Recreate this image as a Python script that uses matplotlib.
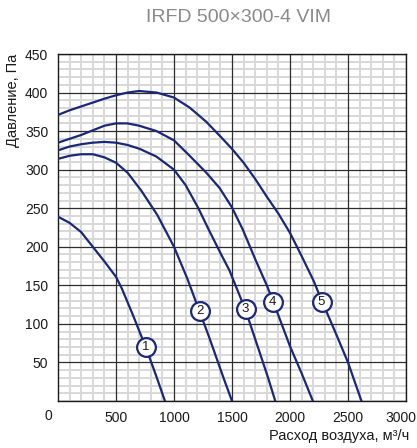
import matplotlib
matplotlib.use("Agg")
import matplotlib.pyplot as plt
from matplotlib.ticker import MultipleLocator
from matplotlib.transforms import ScaledTranslation

plt.rcParams['font.family'] = ['Liberation Sans', 'DejaVu Sans']

# fan curves: flow m3/h, pressure Pa
q1 = [0, 100, 200, 300, 400, 500, 550, 600, 650, 700, 759, 850, 922]
p1 = [239, 231, 219, 200, 181, 161, 146, 128, 110, 91, 69, 31, 0]

q2 = [0, 100, 200, 300, 400, 500, 600, 717, 857, 1000, 1114, 1218, 1300, 1434, 1500]
p2 = [314, 318, 320, 320, 316, 309, 296, 273, 241, 200, 159, 117, 84, 27, 0]

q3 = [0, 100, 200, 300, 400, 500, 600, 704, 848, 1000, 1100, 1210, 1300, 1400, 1476, 1614, 1734, 1807, 1873]
p3 = [325, 330, 333, 335, 336, 335, 332, 327, 317, 300, 280, 250, 222, 192, 170, 119, 65, 32, 0]

q4 = [0, 100, 200, 300, 400, 500, 600, 700, 850, 1000, 1135, 1279, 1394, 1500, 1594, 1700, 1800, 1855, 2000, 2100, 2197]
p4 = [335, 340, 345, 351, 357, 360, 360, 357, 350, 338, 318, 296, 276, 251, 222, 184, 150, 129, 71, 36, 0]

q5 = [0, 100, 200, 300, 400, 500, 600, 700, 850, 1000, 1135, 1279, 1394, 1500, 1600, 1700, 1800, 1900, 2000, 2100, 2200, 2277, 2400, 2500, 2616]
p5 = [371, 377, 382, 387, 392, 396.5, 400, 402, 400, 393.5, 380.5, 362, 344, 327, 309, 288, 265, 243, 218, 188, 157, 129, 86, 50, 0]

curve_labels = ['1', '2', '3', '4', '5']
label_q = [759, 1222, 1617, 1852, 2272]
label_p = [70, 117, 119, 128, 129]

xticks = [500, 1000, 1500, 2000, 2500, 3000]
yticks = [50, 100, 150, 200, 250, 300, 350, 400, 450]

navy = '#1b2778'
dark = '#1a1a1a'

fig = plt.figure(figsize=(4.17, 4.48), dpi=100)
ax = fig.add_axes([58 / 417, 1 - 401 / 448, 348 / 417, 347 / 448])

ax.set_xlim(0, 3000)
ax.set_ylim(0, 450)
ax.xaxis.set_minor_locator(MultipleLocator(100))
ax.yaxis.set_minor_locator(MultipleLocator(10))
ax.set_xticks(xticks)
ax.set_yticks(yticks)
ax.grid(which='minor', color='#d8d8d8', linewidth=1.4)
ax.set_axisbelow(True)
for x in xticks:
    ax.axvline(x, color='#2e2e2e', linewidth=0.9, zorder=1.5)
for y in yticks:
    ax.axhline(y, color='#2e2e2e', linewidth=0.9, zorder=1.5)
ax.tick_params(which='both', length=0, labelsize=10, pad=7, colors=dark)
for s in ax.spines.values():
    s.set_color(dark)
    s.set_linewidth(1.0)

# last x label sits flush with the right edge
last = ax.get_xticklabels()[-1]
last.set_transform(last.get_transform() + ScaledTranslation(-5 / 100, 0, fig.dpi_scale_trans))

for q, p in [(q1, p1), (q2, p2), (q3, p3), (q4, p4), (q5, p5)]:
    ax.plot(q, p, color=navy, linewidth=1.6, zorder=3, solid_joinstyle='round')

for t, x, y in zip(curve_labels, label_q, label_p):
    ax.plot(x, y, 'o', markersize=13.5, markerfacecolor='white',
            markeredgecolor=navy, markeredgewidth=1.6, zorder=4)
    ax.text(x, y, t, ha='center', va='center', fontsize=9.5, color=dark, zorder=5)

ax.annotate('0', xy=(0, 0), xytext=(-7, -11), textcoords='offset points',
            ha='center', va='center', fontsize=10, color=dark, annotation_clip=False)

ax.set_ylabel('Давление, Па', fontsize=10.5, color=dark)
ax.yaxis.set_label_coords(-0.11, 1.0)
ax.yaxis.label.set_ha('right')
ax.set_xlabel('Расход воздуха, м³/ч', fontsize=10.5, color=dark)
ax.xaxis.set_label_coords(1.01, -0.08)
ax.xaxis.label.set_ha('right')

fig.text(238 / 417, 1 - 18 / 448, 'IRFD 500×300-4 VIM', ha='center', va='center',
         fontsize=14, color='#8a8a8a')

fig.savefig('out.png', dpi=100)
